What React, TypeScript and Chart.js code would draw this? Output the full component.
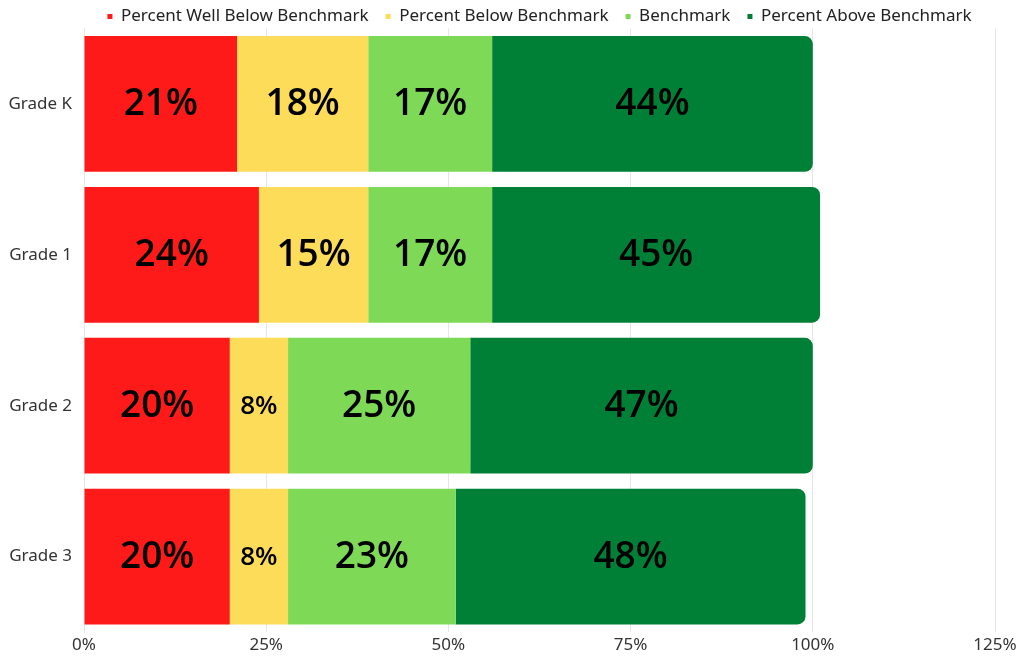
import React, { useEffect, useRef } from "react";
import { Chart, registerables } from "chart.js";

Chart.register(...registerables);

const categories = ["Grade K", "Grade 1", "Grade 2", "Grade 3"];
const wellBelow = [21, 24, 20, 20];
const below = [18, 15, 8, 8];
const benchmark = [17, 17, 25, 23];
const above = [44, 45, 47, 48];
const seriesNames = [
  "Percent Well Below Benchmark",
  "Percent Below Benchmark",
  "Benchmark",
  "Percent Above Benchmark",
];
const seriesColors = ["#FF1A1A", "#FDDC5A", "#7ED957", "#008037"];
const xTicks = [0, 25, 50, 75, 100, 125];

const labelPlugin = {
  id: "segLabels",
  afterDatasetsDraw(chart: any) {
    const ctx = chart.ctx;
    ctx.save();
    ctx.fillStyle = "#000";
    ctx.textAlign = "center";
    ctx.textBaseline = "middle";
    chart.data.datasets.forEach((ds: any, di: number) => {
      const meta = chart.getDatasetMeta(di);
      meta.data.forEach((bar: any, i: number) => {
        const v = ds.data[i];
        const size = v < 10 ? 26 : 37;
        ctx.font = `600 ${size}px "Open Sans", sans-serif`;
        const cx = (bar.x + bar.base) / 2;
        ctx.fillText(`${v}%`, cx, bar.y + 1);
      });
    });
    ctx.restore();
  },
};

const legendHeightPlugin = {
  id: "legendHeight",
  afterInit(chart: any) {
    const lg = chart.legend;
    if (!lg) return;
    const orig = lg.fit;
    lg.fit = function () {
      orig.call(this);
      this.height = 37.5;
    };
  },
};

export default function App() {
  const ref = useRef<HTMLCanvasElement | null>(null);
  useEffect(() => {
    document.body.style.margin = "0";
    const data = [wellBelow, below, benchmark, above];
    const chart = new Chart(ref.current as HTMLCanvasElement, {
      type: "bar",
      data: {
        labels: categories,
        datasets: data.map((d, i) => ({
          label: seriesNames[i],
          data: d,
          backgroundColor: seriesColors[i],
          borderWidth: 0,
          borderRadius: i === 3 ? 8 : 0,
          borderSkipped: "start",
          barPercentage: 0.9,
          categoryPercentage: 1,
        })),
      },
      options: {
        indexAxis: "y",
        animation: false,
        responsive: false,
        maintainAspectRatio: false,
        layout: { padding: { left: 0, right: 26, top: -9, bottom: 0 } },
        plugins: {
          tooltip: { enabled: false },
          legend: {
            position: "top",
            fullSize: false,
            labels: {
              usePointStyle: true,
              pointStyle: "rect",
              boxWidth: 5,
              boxHeight: 5,
              padding: 17,
              color: "#222",
              font: { family: '"Noto Sans", sans-serif', size: 17 },
            },
          },
        },
        scales: {
          x: {
            stacked: true,
            min: 0,
            max: 125,
            afterBuildTicks: (s: any) => {
              s.ticks = xTicks.map((v) => ({ value: v }));
            },
            afterFit: (s: any) => {
              s.height = 26;
            },
            grid: { color: "#e6e6e6", drawTicks: false },
            border: { display: false },
            ticks: {
              padding: 3,
              color: "#333",
              font: { family: '"Noto Sans", sans-serif', size: 17 },
              callback: (v: any) => `${v}%`,
            },
          },
          y: {
            stacked: true,
            afterFit: (s: any) => {
              s.width = 84;
            },
            grid: { display: false, drawTicks: false },
            border: { color: "#e6e6e6" },
            ticks: {
              padding: 12,
              color: "#333",
              font: { family: '"Noto Sans", sans-serif', size: 17 },
            },
          },
        },
      },
      plugins: [labelPlugin, legendHeightPlugin],
    });
    return () => chart.destroy();
  }, []);
  return (
    <div style={{ width: 1021, height: 658 }}>
      <canvas ref={ref} width={1021} height={658} style={{ display: "block" }} />
    </div>
  );
}
